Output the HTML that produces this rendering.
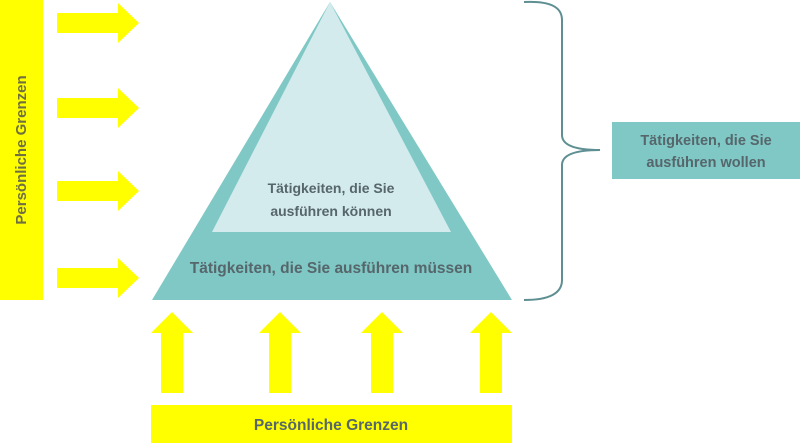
<!DOCTYPE html>
<html><head><meta charset="utf-8"><style>
body{margin:0;width:800px;height:448px;background:#fff;overflow:hidden}
svg{display:block}
text{font-family:"Liberation Sans",sans-serif;font-weight:bold;fill:#56666b}
</style></head><body>
<svg width="800" height="448" viewBox="0 0 800 448">
<rect x="0" y="0" width="43" height="300" fill="#ffff00"/>
<text transform="translate(26,150) rotate(-90)" text-anchor="middle" font-size="15" style="fill:#6f6f40">Persönliche Grenzen</text>
<g fill="#ffff00">
<polygon points="57,13 118,13 118,3 139,23 118,43 118,33 57,33"/>
<polygon points="57,98 118,98 118,88 139,108 118,128 118,118 57,118"/>
<polygon points="57,181 118,181 118,171 139,191 118,211 118,201 57,201"/>
<polygon points="57,268 118,268 118,258 139,278 118,298 118,288 57,288"/>
<polygon points="161,393 161,333 151,333 172,312 193,333 183,333 183,393"/>
<polygon points="269,393 269,333 259,333 280,312 301,333 291,333 291,393"/>
<polygon points="371,393 371,333 361,333 382,312 403,333 393,333 393,393"/>
<polygon points="480,393 480,333 470,333 491,312 512,333 502,333 502,393"/>
</g>
<polygon points="330,2 512,300 152,300" fill="#7fc8c5"/>
<polygon points="330,2 451,232 212,232" fill="#d3ebec"/>
<text x="331" y="193" text-anchor="middle" font-size="14">Tätigkeiten, die Sie</text>
<text x="331" y="216" text-anchor="middle" font-size="14">ausführen können</text>
<text x="331" y="273" text-anchor="middle" font-size="15.5">Tätigkeiten, die Sie ausführen müssen</text>
<path d="M524,2 Q562,0 562,20 L562,135 Q562,150 600,150 Q562,150 562,165 L562,280 Q562,300 524,300" fill="none" stroke="#5e8f92" stroke-width="2"/>
<rect x="612" y="122" width="188" height="57" fill="#7fc8c5"/>
<text x="706" y="145" text-anchor="middle" font-size="14.5">Tätigkeiten, die Sie</text>
<text x="706" y="167" text-anchor="middle" font-size="14.5">ausführen wollen</text>
<rect x="151" y="405" width="361" height="38" fill="#ffff00"/>
<text x="331" y="430" text-anchor="middle" font-size="15.5">Persönliche Grenzen</text>
</svg>
</body></html>
